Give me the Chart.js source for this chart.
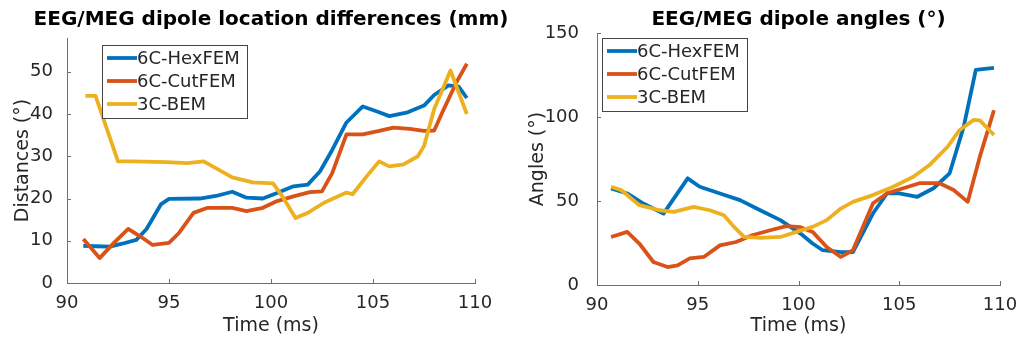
<!DOCTYPE html>
<html>
<head>
<meta charset="utf-8">
<script src="https://cdn.jsdelivr.net/npm/chart.js@4.4.1/dist/chart.umd.min.js"></script>
<style>
  body { margin: 0; background: #fff; width: 1022px; height: 343px; overflow: hidden; position: relative; }
  .box { position: absolute; top: 0; height: 343px; }
  #leftBox { left: 0; width: 515px; }
  #rightBox { left: 515px; width: 507px; }
</style>
</head>
<body>
<div class="box" id="leftBox"><canvas id="locChart"></canvas></div>
<div class="box" id="rightBox"><canvas id="angChart"></canvas></div>
<script>
// series names and colours (MATLAB default order)
var seriesNames = ['6C-HexFEM', '6C-CutFEM', '3C-BEM'];
var seriesColors = ['#0072BD', '#D95319', '#EDB120'];

// tick labels
var timeTicks = [90, 95, 100, 105, 110];
var locTicks = [0, 10, 20, 30, 40, 50];
var angTicks = [0, 50, 100, 150];

// left plot: dipole location differences (mm)
var hexLocT = [90.8, 91.4, 92.1, 92.7, 93.4, 93.9, 94.6, 95.0, 96.5, 97.3, 98.1, 98.8, 99.6, 100.3, 101.1, 101.8, 102.4, 103.0, 103.7, 104.5, 105.2, 105.8, 106.7, 107.5, 108.0, 108.7, 109.2, 109.6];
var hexLocV = [8.8, 8.7, 8.6, 9.3, 10.2, 12.8, 18.6, 19.9, 20.0, 20.6, 21.6, 20.2, 20.0, 21.3, 22.9, 23.3, 26.4, 31.5, 38.0, 41.8, 40.6, 39.5, 40.4, 42.0, 44.5, 46.8, 46.5, 43.8];

var cutLocT = [90.8, 91.6, 92.3, 93.0, 93.6, 94.2, 95.0, 95.5, 96.2, 96.9, 98.1, 98.8, 99.6, 100.3, 101.1, 101.9, 102.5, 103.0, 103.7, 104.5, 105.3, 106.0, 106.8, 107.5, 108.0, 108.4, 109.1, 109.6];
var cutLocV = [10.4, 5.9, 9.5, 12.8, 11.0, 9.0, 9.5, 11.9, 16.6, 17.8, 17.8, 17.0, 17.8, 19.4, 20.5, 21.5, 21.7, 26.0, 35.2, 35.2, 36.0, 36.8, 36.5, 36.0, 36.1, 40.4, 47.6, 51.9];

var bemLocT = [90.9, 91.4, 92.5, 93.2, 94.9, 95.9, 96.7, 97.4, 98.1, 99.1, 100.1, 100.6, 101.2, 101.8, 102.6, 103.7, 104.0, 104.7, 105.3, 105.8, 106.5, 107.2, 107.5, 108.0, 108.8, 109.1, 109.6];
var bemLocV = [44.3, 44.3, 28.8, 28.8, 28.6, 28.4, 28.8, 26.9, 25.0, 23.8, 23.6, 20.2, 15.4, 16.6, 19.0, 21.4, 21.0, 25.3, 28.8, 27.6, 28.1, 30.0, 32.4, 41.2, 50.3, 46.4, 40.0];

// right plot: dipole angles (deg)
var hexAngT = [90.7, 91.5, 92.3, 93.3, 94.5, 95.1, 96.1, 97.1, 98.1, 99.1, 100.1, 100.7, 101.2, 102.1, 102.7, 103.7, 104.4, 105.0, 105.9, 106.7, 107.5, 108.2, 108.8, 109.7];
var hexAngV = [57.5, 54.5, 48.5, 42.5, 63.5, 58.5, 54.5, 50.5, 44.5, 38.6, 30.6, 24.7, 20.7, 19.6, 19.6, 42.7, 54.6, 54.6, 52.5, 57.6, 66.5, 94.3, 128.0, 129.3];

var cutAngT = [90.7, 91.5, 92.1, 92.8, 93.5, 94.0, 94.6, 95.3, 96.1, 96.9, 97.7, 98.6, 99.4, 100.1, 100.7, 101.4, 102.1, 102.7, 103.7, 104.4, 105.2, 106.0, 107.0, 107.7, 108.4, 109.0, 109.7];
var cutAngV = [28.6, 31.6, 24.7, 13.7, 10.7, 11.7, 15.8, 16.7, 23.6, 25.6, 29.6, 32.6, 35.0, 34.4, 31.6, 22.6, 16.7, 20.7, 48.7, 54.6, 57.6, 60.6, 60.6, 56.5, 49.5, 76.4, 104.0];

var bemAngT = [90.7, 91.2, 92.1, 93.1, 93.8, 94.8, 95.6, 96.3, 96.8, 97.3, 98.1, 99.1, 99.9, 100.7, 101.4, 102.1, 102.7, 103.7, 104.7, 105.7, 106.5, 107.4, 108.0, 108.7, 109.0, 109.7];
var bemAngV = [58.5, 56.5, 47.5, 44.5, 43.5, 46.5, 44.5, 41.5, 34.6, 28.6, 28.0, 28.6, 31.6, 34.6, 38.6, 45.5, 49.5, 53.5, 58.5, 64.4, 71.4, 82.3, 92.3, 98.3, 98.0, 89.3];

var FONT = '"DejaVu Sans", "Liberation Sans", sans-serif';
var TEXT = '#262626';
var AXIS = '#6e6e6e';

function pairs(ts, vs) {
    return ts.map(function (t, i) { return { x: t, y: vs[i] }; });
}

function makeDatasets(list) {
    return list.map(function (d, i) {
        return {
            label: seriesNames[i],
            data: pairs(d[0], d[1]),
            borderColor: seriesColors[i],
            backgroundColor: seriesColors[i],
            borderWidth: 3.8,
            pointRadius: 0,
            tension: 0,
            borderJoinStyle: 'round',
            borderCapStyle: 'butt',
            order: 3 - i
        };
    });
}

// title, inward ticks and MATLAB-style legend box
var extrasPlugin = {
    id: 'extras',
    afterDraw: function (chart, args, opts) {
        var ctx = chart.ctx;
        var area = chart.chartArea;
        var xs = chart.scales.x, ys = chart.scales.y;
        ctx.save();

        ctx.strokeStyle = AXIS;
        ctx.lineWidth = 1;
        ctx.beginPath();
        xs.ticks.forEach(function (t) {
            var px = Math.round(xs.getPixelForValue(t.value)) + 0.5;
            ctx.moveTo(px, area.bottom);
            ctx.lineTo(px, area.bottom - 4);
        });
        ys.ticks.forEach(function (t) {
            var py = Math.round(ys.getPixelForValue(t.value)) + 0.5;
            ctx.moveTo(area.left, py);
            ctx.lineTo(area.left + 4, py);
        });
        ctx.stroke();

        ctx.fillStyle = '#000';
        ctx.font = 'bold 20px ' + FONT;
        ctx.textAlign = 'center';
        ctx.textBaseline = 'middle';
        ctx.fillText(opts.title, (area.left + area.right) / 2, opts.titleY);

        var lx = area.left + opts.legendX, ly = area.top + opts.legendY;
        var lw = 145, lh = 73;
        ctx.fillStyle = '#fff';
        ctx.fillRect(lx, ly, lw, lh);
        ctx.strokeStyle = '#444';
        ctx.strokeRect(lx + 0.5, ly + 0.5, lw, lh);
        ctx.font = '18px ' + FONT;
        ctx.textAlign = 'left';
        seriesNames.forEach(function (name, i) {
            var ry = ly + 13 + i * 23;
            ctx.strokeStyle = seriesColors[i];
            ctx.lineWidth = 3.8;
            ctx.beginPath();
            ctx.moveTo(lx + 5, ry);
            ctx.lineTo(lx + 35, ry);
            ctx.stroke();
            ctx.fillStyle = TEXT;
            ctx.fillText(name, lx + 35, ry + 1);
        });
        ctx.restore();
    }
};

function makeChart(id, datasets, yTicks, yMax, yTitle, cfg) {
    return new Chart(document.getElementById(id), {
        type: 'line',
        data: { datasets: datasets },
        plugins: [extrasPlugin],
        options: {
            responsive: true,
            maintainAspectRatio: false,
            animation: false,
            layout: { padding: { top: cfg.top, right: cfg.right, left: 0, bottom: 0 } },
            plugins: {
                legend: { display: false },
                tooltip: { enabled: false },
                extras: { title: cfg.title, titleY: 20, legendX: cfg.legendX, legendY: cfg.legendY }
            },
            scales: {
                x: {
                    type: 'linear',
                    min: 90,
                    max: 110,
                    afterBuildTicks: function (s) { s.ticks = timeTicks.map(function (v) { return { value: v }; }); },
                    afterFit: function (s) { s.height = cfg.xHeight; },
                    grid: { display: false },
                    border: { display: true, color: AXIS, width: 1 },
                    ticks: { color: TEXT, font: { family: FONT, size: 18 }, padding: 2, maxRotation: 0 },
                    title: { display: true, text: 'Time (ms)', color: TEXT, font: { family: FONT, size: 19 }, padding: { top: 0, bottom: 6 } }
                },
                y: {
                    min: 0,
                    max: yMax,
                    afterBuildTicks: function (s) { s.ticks = yTicks.map(function (v) { return { value: v }; }); },
                    afterFit: function (s) { s.width = cfg.yWidth; },
                    grid: { display: false },
                    border: { display: true, color: AXIS, width: 1 },
                    ticks: { color: TEXT, font: { family: FONT, size: 18 }, padding: cfg.yPad },
                    title: { display: true, text: yTitle, color: TEXT, font: { family: FONT, size: 19 }, padding: { top: 12, bottom: 0 } }
                }
            }
        }
    });
}

makeChart('locChart',
    makeDatasets([[hexLocT, hexLocV], [cutLocT, cutLocV], [bemLocT, bemLocV]]),
    locTicks, 58, 'Distances (°)',
    { top: 38, right: 40, xHeight: 60, yWidth: 67, yPad: 6, legendX: 35, legendY: 7,
      title: 'EEG/MEG dipole location differences (mm)' });

makeChart('angChart',
    makeDatasets([[hexAngT, hexAngV], [cutAngT, cutAngV], [bemAngT, bemAngV]]),
    angTicks, 150, 'Angles (°)',
    { top: 33, right: 22, xHeight: 58, yWidth: 82, yPad: 10, legendX: 5, legendY: 5,
      title: 'EEG/MEG dipole angles (°)' });
</script>
</body>
</html>
